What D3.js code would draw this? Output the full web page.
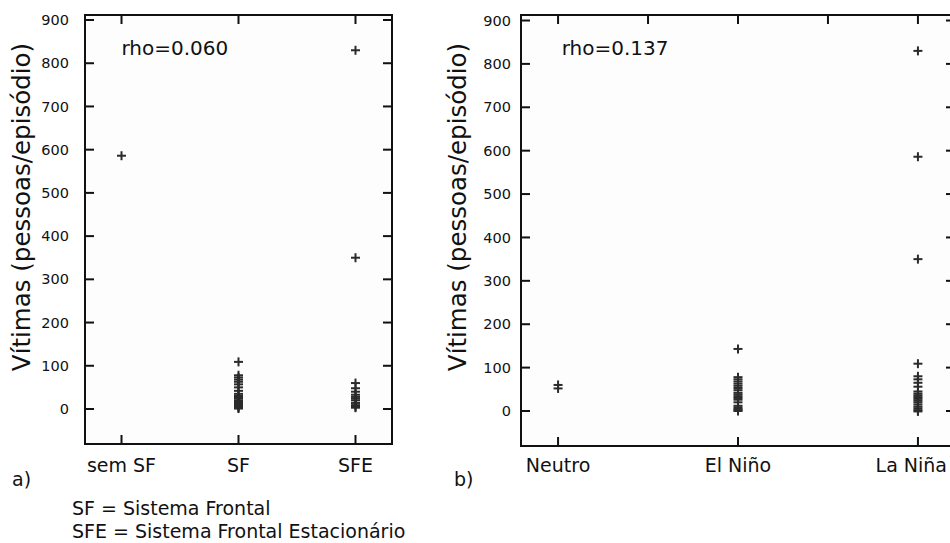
<!DOCTYPE html>
<html>
<head>
<meta charset="utf-8">
<script src="https://cdn.jsdelivr.net/npm/d3@7"></script>
<style>
  html, body { margin: 0; padding: 0; background: #ffffff; }
  svg { display: block; }
  text { font-family: "DejaVu Sans", Verdana, sans-serif; fill: #111; }
</style>
</head>
<body>
<script>
// ---------------- data ----------------
const leftCategories = ["sem SF", "SF", "SFE"];
const semSF = [586];
const sf = [109, 78, 73, 68, 63, 57, 50, 42, 35, 30, 27, 24, 20, 17, 14, 11, 8, 5, 3, 1];
const sfe = [830, 350, 60, 48, 40, 33, 28, 24, 20, 14, 9, 5, 3];
const leftRho = "rho=0.060";

const rightCategories = ["Neutro", "El Niño", "La Niña"];
const neutro = [60, 52];
const elNino = [143, 78, 73, 68, 63, 58, 53, 48, 42, 38, 34, 30, 26, 20, 12, 8, 5, 2, 0];
const laNina = [830, 586, 350, 109, 80, 73, 65, 56, 45, 40, 36, 32, 28, 24, 20, 15, 10, 6, 2, -1];
const rightRho = "rho=0.137";

const yTicks = [0, 100, 200, 300, 400, 500, 600, 700, 800, 900];
const yLabel = "Vítimas (pessoas/episódio)";
const footnotes = ["SF = Sistema Frontal", "SFE = Sistema Frontal Estacionário"];

// ---------------- drawing ----------------
const W = 950, H = 543;
const svg = d3.select("body").append("svg").attr("width", W).attr("height", H);

function panel(cfg) {
  const x = d3.scaleLinear().domain(cfg.xDomain).range([cfg.x0, cfg.x1]);
  const y = d3.scaleLinear().domain(cfg.yDomain).range([cfg.y1, cfg.y0]);
  const g = svg.append("g");
  const tickLen = 9;

  g.append("rect").attr("x", cfg.x0).attr("y", cfg.y0)
    .attr("width", cfg.x1 - cfg.x0).attr("height", cfg.y1 - cfg.y0)
    .attr("fill", "#fdfdfd");

  g.append("text").attr("x", x(cfg.rhoX)).attr("y", y(cfg.rhoY))
    .attr("font-size", 20).text(cfg.rho);

  g.selectAll(".yl").data(yTicks).join("line")
    .attr("x1", cfg.x0).attr("x2", cfg.x0 + tickLen)
    .attr("y1", d => y(d)).attr("y2", d => y(d))
    .attr("stroke", "#111").attr("stroke-width", 2);
  g.selectAll(".yr").data(yTicks).join("line")
    .attr("x1", cfg.x1).attr("x2", cfg.x1 - tickLen)
    .attr("y1", d => y(d)).attr("y2", d => y(d))
    .attr("stroke", "#111").attr("stroke-width", 2);
  g.selectAll(".ytl").data(yTicks).join("text")
    .attr("x", cfg.tickLabelX).attr("y", d => y(d)).attr("dy", "0.35em")
    .attr("text-anchor", "end").attr("font-size", 14.5).text(d => d);

  g.selectAll(".xt").data(cfg.topTicks).join("line")
    .attr("x1", d => x(d)).attr("x2", d => x(d))
    .attr("y1", cfg.y0).attr("y2", cfg.y0 + tickLen)
    .attr("stroke", "#111").attr("stroke-width", 2);
  g.selectAll(".xb").data(cfg.categories).join("line")
    .attr("x1", (d, i) => x(i + 1)).attr("x2", (d, i) => x(i + 1))
    .attr("y1", cfg.y1).attr("y2", cfg.y1 - tickLen)
    .attr("stroke", "#111").attr("stroke-width", 2);
  g.selectAll(".xl").data(cfg.categories).join("text")
    .attr("y", 472).attr("font-size", 19).text(d => d)
    .each(function (d, i) {
      const t = d3.select(this);
      const cx = x(i + 1);
      const w = this.getComputedTextLength();
      if (cx + w / 2 > cfg.maxLabelX) {
        t.attr("x", cfg.maxLabelX).attr("text-anchor", "end");
      } else {
        t.attr("x", cx).attr("text-anchor", "middle");
      }
    });

  g.append("rect").attr("x", cfg.x0).attr("y", cfg.y0)
    .attr("width", cfg.x1 - cfg.x0).attr("height", cfg.y1 - cfg.y0)
    .attr("fill", "none").attr("stroke", "#111").attr("stroke-width", 2);

  const pts = [];
  cfg.series.forEach((vals, i) => vals.forEach(v => pts.push({ c: i + 1, v })));
  const s = 4.5;
  const mk = g.selectAll(".pt").data(pts).join("g")
    .attr("transform", d => `translate(${x(d.c)},${y(d.v)})`);
  mk.append("line").attr("x1", -s).attr("x2", s).attr("y1", 0).attr("y2", 0)
    .attr("stroke", "#2b2b2b").attr("stroke-width", 2);
  mk.append("line").attr("x1", 0).attr("x2", 0).attr("y1", -s).attr("y2", s)
    .attr("stroke", "#2b2b2b").attr("stroke-width", 2);

  g.append("text")
    .attr("transform", `translate(${cfg.yLabelX},207) rotate(-90)`)
    .attr("text-anchor", "middle").attr("font-size", 24.5).text(yLabel);

  g.append("text").attr("x", cfg.letterX).attr("y", 486)
    .attr("font-size", 19).text(cfg.letter);
}

panel({
  x0: 85, x1: 392, y0: 15, y1: 444,
  xDomain: [0.688, 3.312], yDomain: [-81, 911.6],
  categories: leftCategories, series: [semSF, sf, sfe],
  topTicks: [1, 2, 3],
  rho: leftRho, rhoX: 1.0, rhoY: 820,
  tickLabelX: 69, yLabelX: 30, letter: "a)", letterX: 12,
  maxLabelX: 1000
});

panel({
  x0: 521, x1: 955, y0: 15, y1: 446,
  xDomain: [0.794, 3.206], yDomain: [-80.7, 912.7],
  categories: rightCategories, series: [neutro, elNino, laNina],
  topTicks: [1, 1.5, 2, 2.5, 3],
  rho: rightRho, rhoX: 1.02, rhoY: 820,
  tickLabelX: 511, yLabelX: 466, letter: "b)", letterX: 454,
  maxLabelX: 947
});

svg.selectAll(".fn").data(footnotes).join("text")
  .attr("x", 72).attr("y", (d, i) => 515 + i * 23)
  .attr("font-size", 19).text(d => d);
</script>
</body>
</html>
